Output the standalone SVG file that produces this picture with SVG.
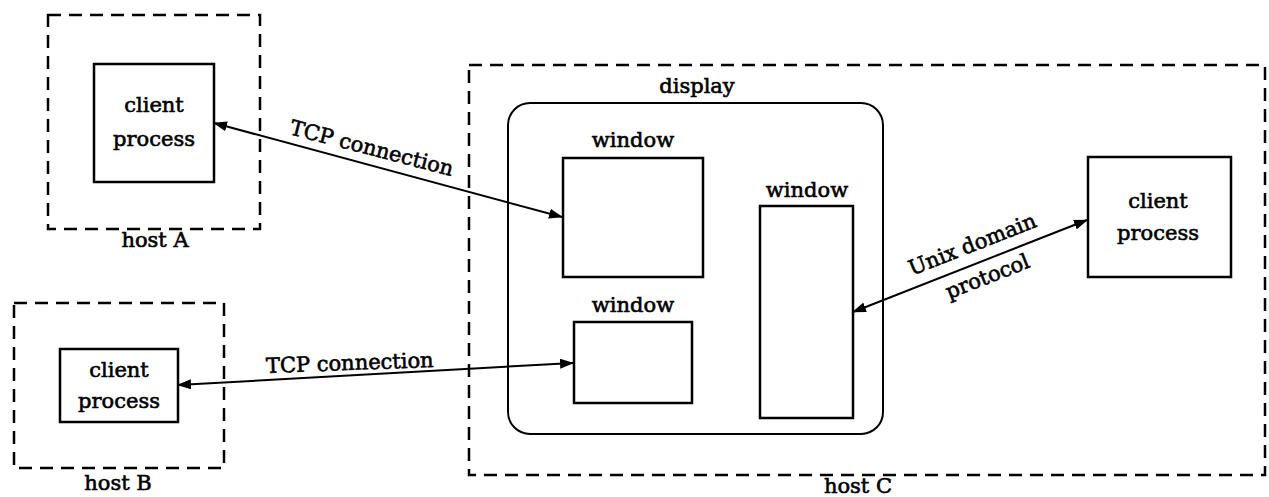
<svg xmlns="http://www.w3.org/2000/svg" width="1269" height="497" viewBox="0 0 1269 497">
<style>
text{font-family:"DejaVu Serif","Liberation Serif",serif;font-size:21px;fill:#000;stroke:#000;stroke-width:0.6;text-anchor:middle}
.host{fill:none;stroke:#000;stroke-width:2.5;stroke-dasharray:13 8}
.box{fill:#fff;stroke:#000;stroke-width:2.5}
.conn{fill:none;stroke:#000;stroke-width:2;marker-start:url(#ah);marker-end:url(#ah)}
</style>
<defs>
<marker id="ah" viewBox="0 0 14 10" refX="13" refY="5" markerWidth="14" markerHeight="10" markerUnits="userSpaceOnUse" orient="auto-start-reverse">
<path d="M0,0 L14,5 L0,10 Z" fill="#000"/>
</marker>
</defs>
<rect width="1269" height="497" fill="#fff"/>
<g id="hostA">
<rect class="host" x="48" y="15" width="212" height="214" stroke-width="3"/>
<text x="155" y="247">host A</text>
</g>
<g id="clientA">
<rect class="box" x="94" y="64" width="120" height="118"/>
<text x="154" y="112">client</text>
<text x="154" y="146">process</text>
</g>
<g id="hostB">
<rect class="host" x="14" y="303" width="210" height="165" stroke-width="2" stroke-dasharray="12 10"/>
<text x="118" y="490">host B</text>
</g>
<g id="clientB">
<rect class="box" x="60" y="349" width="118" height="73"/>
<text x="119" y="377">client</text>
<text x="119" y="408">process</text>
</g>
<g id="hostC">
<rect class="host" x="469" y="65" width="796" height="410"/>
<text x="858" y="493">host C</text>
</g>
<g id="display">
<rect x="508" y="103" width="375" height="331" rx="22" fill="none" stroke="#000" stroke-width="2"/>
<text x="697" y="93">display</text>
</g>
<g id="window1">
<rect class="box" x="563" y="158" width="140" height="119"/>
<text x="633" y="147">window</text>
</g>
<g id="window2">
<rect class="box" x="760" y="206" width="93" height="212"/>
<text x="807" y="197">window</text>
</g>
<g id="window3">
<rect class="box" x="574" y="322" width="118" height="81"/>
<text x="633" y="312">window</text>
</g>
<g id="clientC">
<rect class="box" x="1088" y="157" width="143" height="120"/>
<text x="1158" y="208">client</text>
<text x="1158" y="240">process</text>
</g>
<g id="connectors">
<line class="conn" x1="214" y1="123" x2="562" y2="217"/>
<line class="conn" x1="178" y1="385" x2="573" y2="363"/>
<line class="conn" x1="1087" y1="220" x2="853" y2="312"/>
<text transform="translate(370,155) rotate(14.5)" x="0" y="0">TCP connection</text>
<text transform="translate(350,370) rotate(-2)" x="0" y="0">TCP connection</text>
<text transform="translate(975,251) rotate(-21.5)" x="0" y="0">Unix domain</text>
<text transform="translate(990,283) rotate(-21.5)" x="0" y="0">protocol</text>
</g>
</svg>
